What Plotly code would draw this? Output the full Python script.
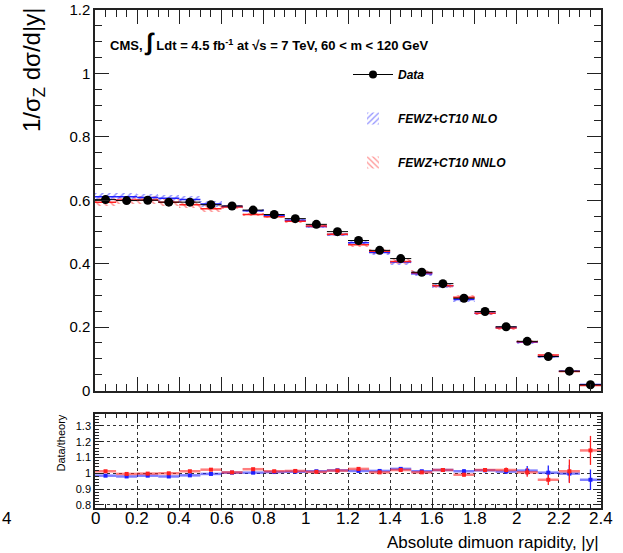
import plotly.graph_objects as go

# ---------------- data ----------------
bin_centers = [0.05, 0.15, 0.25, 0.35, 0.45, 0.55, 0.65, 0.75, 0.85, 0.95,
               1.05, 1.15, 1.25, 1.35, 1.45, 1.55, 1.65, 1.75, 1.85, 1.95,
               2.05, 2.15, 2.25, 2.35]
data_vals = [0.602, 0.599, 0.600, 0.594, 0.594, 0.586, 0.582, 0.569, 0.555, 0.542,
             0.524, 0.501, 0.473, 0.442, 0.416, 0.373, 0.337, 0.291, 0.249, 0.201,
             0.155, 0.107, 0.061, 0.018]
data_err = [0.003, 0.003, 0.003, 0.003, 0.003, 0.003, 0.003, 0.003, 0.003, 0.003,
            0.003, 0.003, 0.003, 0.003, 0.003, 0.003, 0.003, 0.003, 0.003, 0.003,
            0.003, 0.003, 0.003, 0.002]
nlo_vals = [0.611, 0.611, 0.609, 0.606, 0.602, 0.588, 0.580, 0.567, 0.551, 0.537,
            0.517, 0.492, 0.466, 0.435, 0.405, 0.368, 0.330, 0.287, 0.244, 0.199,
            0.152, 0.107, 0.061, 0.019]
nlo_unc = [0.012, 0.012, 0.012, 0.011, 0.011, 0.010, 0.006, 0.005, 0.005, 0.005,
           0.005, 0.005, 0.006, 0.007, 0.008, 0.008, 0.008, 0.008, 0.007, 0.006,
           0.005, 0.004, 0.003, 0.002]
nnlo_vals = [0.594, 0.601, 0.601, 0.594, 0.586, 0.573, 0.579, 0.555, 0.548, 0.534,
             0.519, 0.493, 0.460, 0.439, 0.407, 0.371, 0.330, 0.294, 0.244, 0.197,
             0.154, 0.112, 0.060, 0.016]
nnlo_unc = [0.012, 0.012, 0.012, 0.012, 0.011, 0.011, 0.006, 0.006, 0.005, 0.005,
            0.005, 0.005, 0.006, 0.007, 0.008, 0.008, 0.008, 0.008, 0.007, 0.006,
            0.005, 0.004, 0.003, 0.002]

ratio_nlo = [0.985, 0.980, 0.985, 0.980, 0.987, 0.996, 1.004, 1.004, 1.008, 1.010,
             1.013, 1.019, 1.015, 1.015, 1.028, 1.013, 1.021, 1.013, 1.019, 1.011,
             1.017, 1.004, 0.998, 0.959]
ratio_nlo_err = [0.004, 0.004, 0.004, 0.004, 0.004, 0.004, 0.004, 0.004, 0.004, 0.005,
                 0.005, 0.005, 0.006, 0.006, 0.007, 0.008, 0.010, 0.012, 0.012, 0.015,
                 0.030, 0.045, 0.055, 0.065]
ratio_nnlo = [1.013, 0.996, 0.998, 1.000, 1.013, 1.023, 1.006, 1.026, 1.013, 1.015,
              1.009, 1.017, 1.028, 1.006, 1.021, 1.006, 1.021, 0.991, 1.021, 1.021,
              1.006, 0.959, 1.013, 1.145]
ratio_nnlo_err = [0.004, 0.004, 0.004, 0.004, 0.004, 0.004, 0.004, 0.004, 0.004, 0.005,
                  0.005, 0.005, 0.006, 0.006, 0.007, 0.008, 0.010, 0.012, 0.012, 0.015,
                  0.028, 0.033, 0.075, 0.092]

bin_half = 0.05
x_ticks = [0, 0.2, 0.4, 0.6, 0.8, 1, 1.2, 1.4, 1.6, 1.8, 2, 2.2, 2.4]
x_ticklabels = ["0", "0.2", "0.4", "0.6", "0.8", "1", "1.2", "1.4", "1.6", "1.8", "2", "2.2", "2.4"]
y_ticks = [0, 0.2, 0.4, 0.6, 0.8, 1, 1.2]
y_ticklabels = ["0", "0.2", "0.4", "0.6", "0.8", "1", "1.2"]
r_ticks = [0.8, 0.9, 1, 1.1, 1.2, 1.3]
r_ticklabels = ["0.8", "0.9", "1", "1.1", "1.2", "1.3"]

FONT = "Liberation Sans, Arial, Helvetica, sans-serif"
BLUE = "#2020ff"
RED = "#ff2020"

fig = go.Figure()

# theory bands (hatched)
fig.add_trace(go.Bar(
    x=bin_centers, y=[2 * u for u in nlo_unc], base=[v - u for v, u in zip(nlo_vals, nlo_unc)],
    width=0.1, xaxis="x", yaxis="y", name="<b><i>FEWZ+CT10 NLO</i></b>", legendgroup="nlo",
    marker=dict(color="rgba(0,0,0,0)", line=dict(width=0),
                pattern=dict(shape="/", fgcolor=BLUE, bgcolor="rgba(0,0,0,0)", size=5, solidity=0.3)),
    showlegend=True, hoverinfo="skip"))
fig.add_trace(go.Bar(
    x=bin_centers, y=[2 * u for u in nnlo_unc], base=[v - u for v, u in zip(nnlo_vals, nnlo_unc)],
    width=0.1, xaxis="x", yaxis="y", name="<b><i>FEWZ+CT10 NNLO</i></b>", legendgroup="nnlo",
    marker=dict(color="rgba(0,0,0,0)", line=dict(width=0),
                pattern=dict(shape="\\", fgcolor=RED, bgcolor="rgba(0,0,0,0)", size=5, solidity=0.3)),
    showlegend=True, hoverinfo="skip"))

# theory central lines
fig.add_trace(go.Scatter(
    x=bin_centers, y=nlo_vals, mode="markers", xaxis="x", yaxis="y",
    marker=dict(size=1, color="rgba(0,0,0,0)"), showlegend=False,
    error_x=dict(type="constant", value=bin_half, width=0, thickness=1.5, color=BLUE)))
fig.add_trace(go.Scatter(
    x=bin_centers, y=nnlo_vals, mode="markers", xaxis="x", yaxis="y",
    marker=dict(size=1, color="rgba(0,0,0,0)"), showlegend=False,
    error_x=dict(type="constant", value=bin_half, width=0, thickness=1.5, color=RED)))

# data
fig.add_trace(go.Scatter(
    x=bin_centers, y=data_vals, mode="markers", xaxis="x", yaxis="y",
    marker=dict(size=9, color="black"), showlegend=False,
    error_x=dict(type="constant", value=bin_half, width=0, thickness=1, color="black"),
    error_y=dict(type="data", array=data_err, width=0, thickness=1, color="black")))
# legend entry for data
fig.add_trace(go.Scatter(
    x=[None], y=[None], mode="lines+markers", xaxis="x", yaxis="y",
    name="<b><i>Data</i></b>", legendgroup="data", legendrank=1,
    line=dict(color="black", width=1), marker=dict(size=8, color="black")))

# ratio panel
fig.add_trace(go.Scatter(
    x=bin_centers, y=ratio_nlo, mode="markers", xaxis="x2", yaxis="y2",
    marker=dict(size=4, color=BLUE, symbol="square"), showlegend=False,
    error_x=dict(type="constant", value=bin_half, width=0, thickness=2.5, color="rgba(40,40,255,0.6)"),
    error_y=dict(type="data", array=ratio_nlo_err, width=0, thickness=1.3, color=BLUE)))
fig.add_trace(go.Scatter(
    x=bin_centers, y=ratio_nnlo, mode="markers", xaxis="x2", yaxis="y2",
    marker=dict(size=4, color=RED, symbol="square"), showlegend=False,
    error_x=dict(type="constant", value=bin_half, width=0, thickness=2.5, color="rgba(255,40,40,0.6)"),
    error_y=dict(type="data", array=ratio_nnlo_err, width=0, thickness=1.3, color=RED)))

W, H = 623, 553
x_dom = [95 / W, 601 / W]
top_dom = [1 - 390.5 / H, 1 - 10 / H]
rat_dom = [1 - 508 / H, 1 - 414 / H]

axis_common = dict(showline=True, linecolor="#222", linewidth=1.5, mirror="ticks",
                   ticks="inside", tickcolor="#222", zeroline=False, automargin=False)

fig.update_layout(
    width=W, height=H, margin=dict(l=0, r=0, t=0, b=0),
    paper_bgcolor="white", plot_bgcolor="white",
    barmode="overlay", bargap=0,
    font=dict(family=FONT, color="black"),
    xaxis=dict(domain=x_dom, range=[0, 2.4], anchor="y", tickvals=x_ticks, showticklabels=False,
               ticklen=14, showgrid=False,
               minor=dict(dtick=0.05, ticklen=7, ticks="inside", tickcolor="#222", showgrid=False),
               **axis_common),
    yaxis=dict(domain=top_dom, range=[0, 1.2], anchor="x", tickvals=y_ticks, ticktext=y_ticklabels,
               ticklen=14, showgrid=False, tickfont=dict(size=15),
               minor=dict(dtick=0.05, ticklen=7, ticks="inside", tickcolor="#222", showgrid=False),
               **axis_common),
    xaxis2=dict(domain=x_dom, range=[0, 2.4], anchor="y2", tickvals=x_ticks, showticklabels=False,
                ticklen=8,
                showgrid=True, gridcolor="#333", griddash="dot", gridwidth=1,
                minor=dict(dtick=0.05, ticklen=4, ticks="inside", tickcolor="#222", showgrid=False),
                **axis_common),
    yaxis2=dict(domain=rat_dom, range=[0.78, 1.376], anchor="x2", tickvals=r_ticks, ticktext=r_ticklabels,
                ticklen=8, tickfont=dict(size=11),
                showgrid=True, gridcolor="#333", griddash="dot", gridwidth=1,
                minor=dict(dtick=0.02, ticklen=4, ticks="inside", tickcolor="#222", showgrid=False),
                **axis_common),
    legend=dict(x=348 / W, y=1 - 60 / H, xanchor="left", yanchor="top",
                bgcolor="rgba(0,0,0,0)", font=dict(size=12, family=FONT),
                tracegroupgap=25, traceorder="grouped", itemwidth=40),
    showlegend=True,
)

# x tick labels of the ratio panel, placed through the x2 scale
for tv, tl in zip(x_ticks, x_ticklabels):
    fig.add_annotation(text=tl, xref="x2", yref="paper", x=tv, y=1 - 518 / H,
                       xanchor="center", yanchor="middle", showarrow=False,
                       font=dict(size=17, family=FONT))

# texts
fig.add_annotation(
    text="<b>CMS, <span style='font-size:24px'>∫</span> Ldt = 4.5 fb<sup>-1</sup> at √s = 7 TeV, 60 &lt; m &lt; 120 GeV</b>",
    xref="paper", yref="paper", x=108 / W, y=1 - 42 / H, xanchor="left", yanchor="middle",
    showarrow=False, font=dict(size=13, family=FONT))
fig.add_annotation(
    text="1/σ<sub>Z</sub> dσ/d|y|", textangle=-90,
    xref="paper", yref="paper", x=33 / W, y=1 - 6 / H, xanchor="center", yanchor="top",
    showarrow=False, font=dict(size=24, family=FONT))
fig.add_annotation(
    text="Data/theory", textangle=-90,
    xref="paper", yref="paper", x=60 / W, y=1 - 413 / H, xanchor="center", yanchor="top",
    showarrow=False, font=dict(size=11, family=FONT))
fig.add_annotation(
    text="Absolute dimuon rapidity, |y|",
    xref="paper", yref="paper", x=601 / W, y=1 - 542 / H, xanchor="right", yanchor="middle",
    showarrow=False, font=dict(size=17, family=FONT))
fig.add_annotation(
    text="4", xref="paper", yref="paper", x=0, y=1 - 518 / H, xanchor="left", yanchor="middle",
    showarrow=False, font=dict(size=17, family=FONT))

fig.write_html("out.html", config={"displayModeBar": False},
               post_script="document.body.style.margin='0';document.body.style.overflow='hidden';")
